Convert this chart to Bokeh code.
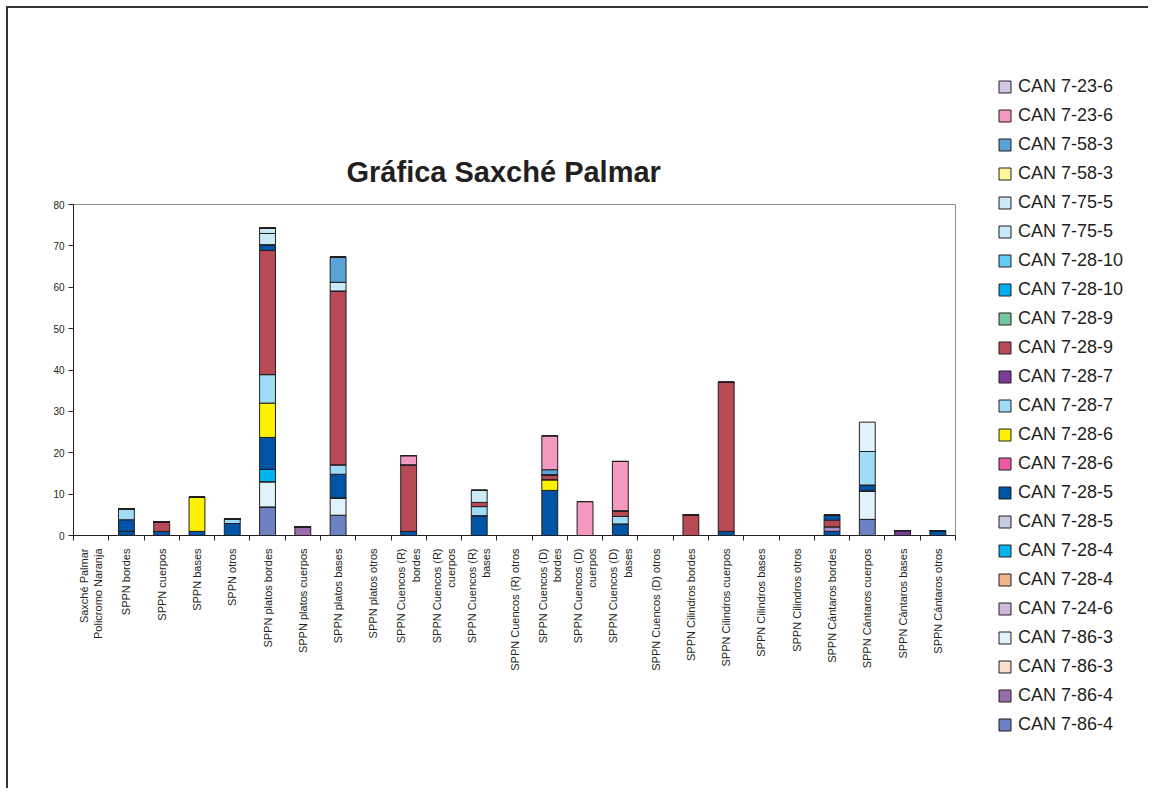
import math
from bokeh.plotting import figure
from bokeh.layouts import row
from bokeh.models import Range1d, FixedTicker, Legend, LegendItem, Title
from bokeh.embed import file_html
from bokeh.resources import INLINE

categories = [
    "Saxché Palmar\nPolicromo Naranja", "SPPN bordes", "SPPN cuerpos", "SPPN bases", "SPPN otros",
    "SPPN platos bordes", "SPPN platos cuerpos", "SPPN platos bases", "SPPN platos otros",
    "SPPN Cuencos (R)\nbordes", "SPPN Cuencos (R)\ncuerpos", "SPPN Cuencos (R)\nbases",
    "SPPN Cuencos (R) otros", "SPPN Cuencos (D)\nbordes", "SPPN Cuencos (D)\ncuerpos",
    "SPPN Cuencos (D)\nbases", "SPPN Cuencos (D) otros", "SPPN Cilindros bordes",
    "SPPN Cilindros cuerpos", "SPPN Cilindros bases", "SPPN Cilindros otros",
    "SPPN Cántaros bordes", "SPPN Cántaros cuerpos", "SPPN Cántaros bases", "SPPN Cántaros otros",
]
y_ticks = [0, 10, 20, 30, 40, 50, 60, 70, 80]

# series values, bottom of the stack first
can_7_86_4_a = [0, 0, 0, 0, 0, 6.9, 0, 4.9, 0, 0, 0, 0, 0, 0, 0, 0, 0, 0, 0, 0, 0, 0, 3.9, 0, 0]
can_7_86_4_b = [0, 0, 0, 0, 0, 0, 2.1, 0, 0, 0, 0, 0, 0, 0, 0, 0, 0, 0, 0, 0, 0, 0, 0, 0, 0]
can_7_86_3_a = [0, 0, 0, 0, 0, 0, 0, 0, 0, 0, 0, 0, 0, 0, 0, 0, 0, 0, 0, 0, 0, 0, 0, 0, 0]
can_7_86_3_b = [0, 0, 0, 0, 0, 6.1, 0, 4.2, 0, 0, 0, 0, 0, 0, 0, 0, 0, 0, 0, 0, 0, 0, 6.9, 0, 0]
can_7_24_6 = [0, 0, 0, 0, 0, 0, 0, 0, 0, 0, 0, 0, 0, 0, 0, 0, 0, 0, 0, 0, 0, 0, 0, 0, 0]
can_7_28_4_a = [0, 0, 0, 0, 0, 0, 0, 0, 0, 0, 0, 0, 0, 0, 0, 0, 0, 0, 0, 0, 0, 0, 0, 0, 0]
can_7_28_4_b = [0, 0, 0, 0, 0, 3.0, 0, 0, 0, 0, 0, 0, 0, 0, 0, 0, 0, 0, 0, 0, 0, 0, 0, 0, 0]
can_7_28_5_a = [0, 0, 0, 0, 0, 0, 0, 0, 0, 0, 0, 0, 0, 0, 0, 0, 0, 0, 0, 0, 0, 0, 0, 0, 0]
can_7_28_5_b = [0, 1.0, 1.0, 1.0, 2.9, 7.7, 0, 5.7, 0, 1.0, 0, 4.8, 0, 10.9, 0, 2.8, 0, 0, 1.0, 0, 0, 1.0, 1.4, 0, 1.2]
can_7_28_6_a = [0, 0, 0, 0, 0, 0, 0, 0, 0, 0, 0, 0, 0, 0, 0, 0, 0, 0, 0, 0, 0, 0, 0, 0, 0]
can_7_28_6_b = [0, 0, 0, 8.3, 0, 8.3, 0, 0, 0, 0, 0, 0, 0, 2.6, 0, 0, 0, 0, 0, 0, 0, 0, 0, 0, 0]
can_7_28_7_a = [0, 0, 0, 0, 1.1, 6.9, 0, 2.3, 0, 0, 0, 2.2, 0, 0, 0, 1.8, 0, 0, 0, 0, 0, 0, 8.1, 0, 0]
extra_lav = [0, 0, 0, 0, 0, 0, 0, 0, 0, 0, 0, 0, 0, 0, 0, 0, 0, 0, 0, 0, 0, 1.1, 0, 0, 0]
can_7_28_7_b = [0, 0, 0, 0, 0, 0, 0, 0, 0, 0, 0, 0, 0, 0, 0, 0, 0, 0, 0, 0, 0, 0, 0, 1.2, 0]
can_7_28_9_a = [0, 0, 2.3, 0, 0, 30.0, 0, 42.0, 0, 16.1, 0, 1.0, 0, 1.2, 0, 1.4, 0, 5.0, 36.0, 0, 0, 1.6, 0, 0, 0]
extra_db = [0, 2.8, 0, 0, 0, 1.4, 0, 0, 0, 0, 0, 0, 0, 0, 0, 0, 0, 0, 0, 0, 0, 1.3, 0, 0, 0]
extra_lb = [0, 2.6, 0, 0, 0, 0, 0, 0, 0, 0, 0, 0, 0, 0, 0, 0, 0, 0, 0, 0, 0, 0, 0, 0, 0]
can_7_28_9_b = [0, 0, 0, 0, 0, 0, 0, 0, 0, 0, 0, 0, 0, 0, 0, 0, 0, 0, 0, 0, 0, 0, 0, 0, 0]
can_7_28_10_a = [0, 0, 0, 0, 0, 0, 0, 0, 0, 0, 0, 0, 0, 0, 0, 0, 0, 0, 0, 0, 0, 0, 0, 0, 0]
can_7_28_10_b = [0, 0, 0, 0, 0, 0, 0, 0, 0, 0, 0, 0, 0, 0, 0, 0, 0, 0, 0, 0, 0, 0, 0, 0, 0]
can_7_75_5_a = [0, 0, 0, 0, 0, 2.7, 0, 2.1, 0, 0, 0, 2.9, 0, 0, 0, 0, 0, 0, 0, 0, 0, 0, 0, 0, 0]
can_7_75_5_b = [0, 0, 0, 0, 0, 1.3, 0, 0, 0, 0, 0, 0, 0, 0, 0, 0, 0, 0, 0, 0, 0, 0, 0, 0, 0]
can_7_58_3_a = [0, 0, 0, 0, 0, 0, 0, 0, 0, 0, 0, 0, 0, 0, 0, 0, 0, 0, 0, 0, 0, 0, 0, 0, 0]
can_7_58_3_b = [0, 0, 0, 0, 0, 0, 0, 6.1, 0, 0, 0, 0, 0, 1.2, 0, 0, 0, 0, 0, 0, 0, 0, 0, 0, 0]
can_7_23_6_a = [0, 0, 0, 0, 0, 0, 0, 0, 0, 2.2, 0, 0, 0, 8.2, 8.2, 11.9, 0, 0, 0, 0, 0, 0, 0, 0, 0]
can_7_23_6_b = [0, 0, 0, 0, 0, 0, 0, 0, 0, 0, 0, 0, 0, 0, 0, 0, 0, 0, 0, 0, 0, 0, 0, 0, 0]
extra_vl = [0, 0, 0, 0, 0, 0, 0, 0, 0, 0, 0, 0, 0, 0, 0, 0, 0, 0, 0, 0, 0, 0, 7.1, 0, 0]

# (key, values, colour, legend label or None) in stacking order
series = [
    ("s01", can_7_86_4_a, "#6D82C3", "CAN 7-86-4"),
    ("s02", can_7_86_4_b, "#9B6DAF", "CAN 7-86-4"),
    ("s03", can_7_86_3_a, "#FADCCB", "CAN 7-86-3"),
    ("s04", can_7_86_3_b, "#E1F3FA", "CAN 7-86-3"),
    ("s05", can_7_24_6, "#CDB8D9", "CAN 7-24-6"),
    ("s06", can_7_28_4_a, "#F0B48C", "CAN 7-28-4"),
    ("s07", can_7_28_4_b, "#00B4EF", "CAN 7-28-4"),
    ("s08", can_7_28_5_a, "#C8CAE6", "CAN 7-28-5"),
    ("s09", can_7_28_5_b, "#0054A6", "CAN 7-28-5"),
    ("s10", can_7_28_6_a, "#EE5B9F", "CAN 7-28-6"),
    ("s11", can_7_28_6_b, "#FFF200", "CAN 7-28-6"),
    ("s12", can_7_28_7_a, "#A0DCF6", "CAN 7-28-7"),
    ("s13", extra_lav, "#A88BC7", None),
    ("s14", can_7_28_7_b, "#7B3C97", "CAN 7-28-7"),
    ("s15", can_7_28_9_a, "#B84A56", "CAN 7-28-9"),
    ("s16", extra_db, "#0054A6", None),
    ("s17", extra_lb, "#A0DCF6", None),
    ("s18", can_7_28_9_b, "#72C6A0", "CAN 7-28-9"),
    ("s19", can_7_28_10_a, "#00AEEF", "CAN 7-28-10"),
    ("s20", can_7_28_10_b, "#62CBF3", "CAN 7-28-10"),
    ("s21", can_7_75_5_a, "#C9EBF8", "CAN 7-75-5"),
    ("s22", can_7_75_5_b, "#C9EBF8", "CAN 7-75-5"),
    ("s23", can_7_58_3_a, "#FFF799", "CAN 7-58-3"),
    ("s24", can_7_58_3_b, "#5AA3D6", "CAN 7-58-3"),
    ("s25", can_7_23_6_a, "#F49AC1", "CAN 7-23-6"),
    ("s26", can_7_23_6_b, "#D3C6E2", "CAN 7-23-6"),
    ("s27", extra_vl, "#E1F3FA", None),
]

FONT = "Liberation Sans"
DARK = "#231F20"

x_pos = [i + 0.5 for i in range(len(categories))]
data = {"x": x_pos}
for key, vals, _, _ in series:
    data[key] = vals
keys = [s[0] for s in series]
colors = [s[2] for s in series]

# ---- main chart ----
p = figure(width=965, height=780, output_backend="svg", toolbar_location=None,
           x_range=Range1d(0, len(categories)), y_range=Range1d(y_ticks[0], y_ticks[-1]),
           min_border_left=65, min_border_right=18, min_border_top=196, min_border_bottom=253)

p.vbar_stack(keys, x="x", width=0.45, source=data, color=colors, line_color=DARK, line_width=1)

p.xgrid.visible = False
p.ygrid.visible = False
p.outline_line_color = "#8C8C8C"
p.outline_line_width = 1
p.background_fill_color = "white"

p.yaxis.ticker = FixedTicker(ticks=y_ticks)
p.yaxis.axis_line_color = DARK
p.yaxis.major_tick_line_color = DARK
p.yaxis.major_tick_out = 5
p.yaxis.major_tick_in = 0
p.yaxis.minor_tick_line_color = None
p.yaxis.major_label_text_font = FONT
p.yaxis.major_label_text_font_size = "10px"
p.yaxis.major_label_text_color = DARK
p.yaxis.major_label_standoff = 4

p.xaxis.ticker = FixedTicker(ticks=x_pos, minor_ticks=list(range(len(categories) + 1)))
p.xaxis.major_label_overrides = {x: c for x, c in zip(x_pos, categories)}
p.xaxis.major_label_orientation = math.pi / 2
p.xaxis.major_tick_line_color = None
p.xaxis.major_tick_out = 0
p.xaxis.major_tick_in = 0
p.xaxis.minor_tick_line_color = DARK
p.xaxis.minor_tick_out = 5
p.xaxis.minor_tick_in = 0
p.xaxis.axis_line_color = DARK
p.xaxis.major_label_text_font = FONT
p.xaxis.major_label_text_font_size = "11px"
p.xaxis.major_label_text_color = DARK
p.xaxis.major_label_standoff = 8

p.add_layout(Title(text="Gráfica Saxché Palmar", align="left", offset=273,
                   text_font=FONT, text_font_size="29px", text_font_style="bold",
                   text_color=DARK, standoff=34), "above")

# ---- legend panel (same series, drawn far outside its visible ranges) ----
q = figure(width=175, height=780, output_backend="svg", toolbar_location=None,
           x_range=Range1d(1000, 1001), y_range=Range1d(1000, 1001),
           x_axis_location=None, y_axis_location=None, min_border=0)
q.grid.visible = False
q.outline_line_color = None
for plot in (p, q):
    try:
        plot.frame_align = False
    except Exception:
        pass
rq = q.vbar_stack(keys, x="x", width=0.45, source=data, color=colors, line_color=DARK, line_width=1)

items = []
for (key, vals, col, lab), r in reversed(list(zip(series, rq))):
    if lab is not None:
        items.append(LegendItem(label=lab, renderers=[r]))

legend = Legend(items=items, location=(24, 53), padding=0, margin=0,
                spacing=8, glyph_width=15, glyph_height=15, label_height=21,
                label_standoff=6, label_text_font=FONT, label_text_font_size="18px",
                label_text_color=DARK, border_line_color=None, background_fill_alpha=0)
q.add_layout(legend, "center")

layout = row(p, q)
layout.margin = (6, 0, 0, 6)
layout.styles = {"border-top": "2px solid #333333", "border-left": "2px solid #333333"}

open("out.html", "w").write(file_html(layout, INLINE))
